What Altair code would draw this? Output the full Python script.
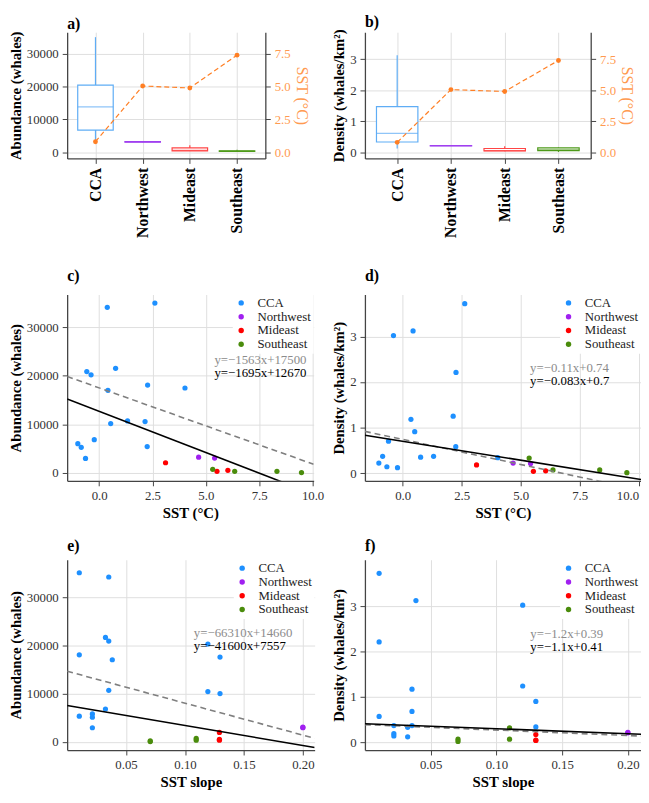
import altair as alt
import pandas as pd

FONT = "Liberation Serif"

regions = ["CCA", "Northwest", "Mideast", "Southeast"]
point_colors = ["#1E90FF", "#A020F0", "#FF0000", "#4A8C0C"]
box_colors = ["#5FADF5", "#A040F0", "#FF4545", "#4E9A1A"]
orange = "#FF7F24"
orange_text = "#FF9A50"

# ---- panels a/b : box summaries per region + mean SST ----
sst_mean = [0.8, 5.05, 4.9, 7.4]
ab_lo = [2930, 3050, 340, 70]
ab_q1 = [6750, 3080, 440, 272]
ab_med = [13860, 3150, 540, 340]
ab_q3 = [20480, 3220, 1320, 440]
ab_hi = [35100, 3250, 2100, 745]
de_lo = [0.12, 0.20, 0.03, 0.01]
de_q1 = [0.33, 0.205, 0.045, 0.05]
de_med = [0.61, 0.21, 0.05, 0.08]
de_q3 = [1.47, 0.215, 0.12, 0.14]
de_hi = [3.13, 0.22, 0.19, 0.15]

# ---- panel c : SST vs abundance ----
c_sst = {"CCA": [-1.0, -0.84, -0.64, -0.58, -0.38, -0.23, 0.38, 0.41, 0.54, 0.77, 1.33, 2.15, 2.25, 2.27, 2.61, 4.02],
         "Northwest": [4.66, 5.41], "Mideast": [3.11, 5.52, 6.03], "Southeast": [5.32, 6.35, 8.33, 9.48]}
c_abund = {"CCA": [6030, 5280, 2980, 20850, 20180, 6840, 34060, 16990, 10160, 21530, 10700, 10560, 5420, 18080, 34940, 17470],
           "Northwest": [3250, 3050], "Mideast": [2100, 340, 540], "Southeast": [745, 340, 340, 70]}
# ---- panel d : SST vs density ----
d_sst = {"CCA": [-1.01, -0.85, -0.67, -0.60, -0.39, -0.22, 0.35, 0.44, 0.51, 0.76, 1.31, 2.14, 2.26, 2.25, 2.63, 4.03],
         "Northwest": [4.68, 5.42], "Mideast": [3.13, 5.54, 6.06], "Southeast": [5.36, 6.37, 8.35, 9.5]}
d_dens = {"CCA": [0.22, 0.37, 0.14, 0.70, 3.02, 0.12, 1.18, 3.12, 0.91, 0.35, 0.37, 1.25, 2.21, 0.58, 3.72, 0.34],
          "Northwest": [0.22, 0.21], "Mideast": [0.18, 0.04, 0.05], "Southeast": [0.33, 0.07, 0.07, 0.01]}
# ---- panel e : SST slope vs abundance ----
e_slope = {"CCA": [0.0103, 0.0353, 0.0103, 0.0325, 0.0353, 0.0383, 0.0353, 0.0325, 0.0103, 0.0214, 0.0214, 0.0214, 0.1194, 0.1194, 0.1297, 0.1297],
           "Northwest": [0.2, 0.2], "Mideast": [0.1292, 0.1292, 0.1292], "Southeast": [0.0705, 0.0705, 0.1095, 0.1095]}
e_abund = {"CCA": [35100, 34220, 18060, 21680, 20930, 17040, 10700, 6820, 5320, 5790, 5110, 2930, 20310, 10430, 17590, 10020],
           "Northwest": [3050, 2950], "Mideast": [1950, 340, 540], "Southeast": [70, 200, 700, 340]}
# ---- panel f : SST slope vs density ----
f_slope = {"CCA": [0.0108, 0.0108, 0.0108, 0.0388, 0.0358, 0.0358, 0.0358, 0.0325, 0.0325, 0.022, 0.022, 0.022, 0.12, 0.12, 0.13, 0.13],
           "Northwest": [0.2, 0.2], "Mideast": [0.13, 0.13, 0.13], "Southeast": [0.0708, 0.0708, 0.11, 0.11]}
f_dens = {"CCA": [3.72, 2.21, 0.57, 3.12, 1.17, 0.68, 0.37, 0.33, 0.12, 0.37, 0.19, 0.14, 3.02, 1.24, 0.90, 0.34],
          "Northwest": [0.22, 0.21], "Mideast": [0.17, 0.04, 0.05], "Southeast": [0.02, 0.07, 0.32, 0.07]}

# regression fits printed on the chart: (slope, intercept)
c_fit = {"gray": (-1563, 17500), "black": (-1695, 12670)}
d_fit = {"gray": (-0.11, 0.74), "black": (-0.083, 0.7)}
e_fit = {"gray": (-66310, 14660), "black": (-41600, 7557)}
f_fit = {"gray": (-1.2, 0.39), "black": (-1.1, 0.41)}
c_lab = ["y=\u22121563x+17500", "y=\u22121695x+12670"]
d_lab = ["y=\u22120.11x+0.74", "y=\u22120.083x+0.7"]
e_lab = ["y=\u221266310x+14660", "y=\u221241600x+7557"]
f_lab = ["y=\u22121.2x+0.39", "y=\u22121.1x+0.41"]
c_lab_pos = (5.4, [23200, 20500])
d_lab_pos = (5.4, [2.31, 2.02])
e_lab_pos = (0.1075, [22600, 19850])
f_lab_pos = (0.1258, [2.38, 2.09])


def ptitle(s, off):
    return alt.TitleParams(s, anchor="start", frame="group", fontSize=16, fontWeight="bold",
                           font=FONT, color="black", offset=off)


def box_panel(lo, q1, med, q3, hi, ydom, yvals, ytitle, sstdom, width, height, boxw, label):
    df = pd.DataFrame({"region": regions, "lo": lo, "q1": q1, "med": med, "q3": q3, "hi": hi, "sst": sst_mean})
    xenc = alt.X("region:N", sort=regions,
                 scale=alt.Scale(type="point", padding=0.6, domain=regions),
                 axis=alt.Axis(title=None, labelAngle=-90, labelFontWeight="bold", labelFontSize=16,
                               labelColor="black", grid=True, labelPadding=4))
    cscale = alt.Scale(domain=regions, range=box_colors)
    yscale = alt.Scale(domain=ydom, nice=False, zero=False)
    yaxis = alt.Axis(title=ytitle, values=yvals, format="d", grid=True)
    base = alt.Chart(df)
    whisk = base.mark_rule(strokeWidth=1.2).encode(
        x=xenc, y=alt.Y("lo:Q", scale=yscale, axis=yaxis), y2="hi:Q",
        color=alt.Color("region:N", scale=cscale, legend=None))
    box = base.mark_bar(size=boxw, fill="white", strokeWidth=1.2).encode(
        x=xenc, y=alt.Y("q1:Q", scale=yscale, axis=yaxis), y2="q3:Q",
        stroke=alt.Stroke("region:N", scale=cscale, legend=None))
    mline = base.mark_tick(size=boxw, thickness=1.2).encode(
        x=xenc, y=alt.Y("med:Q", scale=yscale, axis=yaxis),
        color=alt.Color("region:N", scale=cscale, legend=None))
    sst_y = alt.Y("sst:Q", scale=alt.Scale(domain=sstdom, nice=False, zero=False),
                  axis=alt.Axis(orient="right", title="SST (\u00b0C)", values=[0, 2.5, 5, 7.5], format=".1f",
                                grid=False, labelColor=orange_text, titleColor=orange_text,
                                titleFontWeight="normal", titleFontSize=16))
    line = base.mark_line(color=orange, strokeDash=[5, 3], strokeWidth=1.2).encode(x=xenc, y=sst_y)
    pts = base.mark_point(filled=True, color=orange, size=24, opacity=1).encode(x=xenc, y=sst_y)
    return alt.layer(alt.layer(whisk, box, mline), alt.layer(line, pts)).resolve_scale(
        y="independent").properties(width=width, height=height, title=ptitle(label, -1))


def make_points(xs, ys):
    rows = []
    for reg in regions:
        for xv, yv in zip(xs[reg], ys[reg]):
            rows.append({"region": reg, "x": xv, "y": yv})
    return pd.DataFrame(rows)


def scatter_panel(xs, ys, xdom, ydom, xvals, xfmt, yvals, xtitle, ytitle, fit, labels, lab_pos,
                  width, height, label, toff, flush=False):
    pdf = make_points(xs, ys)
    X = alt.X("x:Q", scale=alt.Scale(domain=xdom, nice=False, zero=False),
              axis=alt.Axis(title=xtitle, values=xvals, format=xfmt, grid=True,
                            labelFlush=4 if flush else False))
    Y = alt.Y("y:Q", scale=alt.Scale(domain=ydom, nice=False, zero=False),
              axis=alt.Axis(title=ytitle, values=yvals, format="d", grid=True))
    legend = alt.Legend(title=None, orient="top-right", offset=0, padding=2, fillColor="white",
                        labelFont=FONT, labelFontSize=13, labelColor="#222", symbolType="circle",
                        symbolSize=30, rowPadding=0, labelOffset=10)
    pts = alt.Chart(pdf).mark_circle(size=28, opacity=1).encode(
        x=X, y=Y, color=alt.Color("region:N", scale=alt.Scale(domain=regions, range=point_colors),
                                  legend=legend))
    layers = [pts]
    for kind, style in [("gray", dict(color="#7F7F7F", strokeDash=[6, 4])), ("black", dict(color="black"))]:
        m, b = fit[kind]
        ldf = pd.DataFrame({"x": [xdom[0], xdom[1]], "y": [m * xdom[0] + b, m * xdom[1] + b]})
        layers.append(alt.Chart(ldf).mark_line(clip=True, strokeWidth=1.6, **style).encode(x=X, y=Y))
    for txt, yv, col in zip(labels, lab_pos[1], ["#8C8C8C", "black"]):
        tdf = pd.DataFrame({"x": [lab_pos[0]], "y": [yv], "t": [txt]})
        layers.append(alt.Chart(tdf).mark_text(align="left", baseline="middle", font=FONT, fontSize=13,
                                               color=col).encode(x=X, y=Y, text="t:N"))
    return alt.layer(*layers).properties(width=width, height=height, title=ptitle(label, toff))


pa = box_panel(ab_lo, ab_q1, ab_med, ab_q3, ab_hi, [-1900, 36600], [0, 10000, 20000, 30000],
               "Abundance (whales)", [-0.475, 9.15], 201, 128, 36, "a)")
pb = box_panel(de_lo, de_q1, de_med, de_q3, de_hi, [-0.2, 3.87], [0, 1, 2, 3],
               "Density (whales/km\u00b2)", [-0.5, 9.675], 229, 128, 42, "b)")
pc = scatter_panel(c_sst, c_abund, [-1.5, 10.05], [-1630, 36700], [0, 2.5, 5, 7.5, 10], ".1f",
                   [0, 10000, 20000, 30000], "SST (\u00b0C)", "Abundance (whales)", c_fit, c_lab, c_lab_pos,
                   250, 189, "c)", 11)
pd_ = scatter_panel(d_sst, d_dens, [-1.6, 10.1], [-0.17, 3.92], [0, 2.5, 5, 7.5, 10], ".1f",
                    [0, 1, 2, 3], "SST (\u00b0C)", "Density (whales/km\u00b2)", d_fit, d_lab, d_lab_pos,
                    280, 189, "d)", 11, flush=True)
pe = scatter_panel(e_slope, e_abund, [0.0, 0.21], [-1700, 37800], [0.05, 0.10, 0.15, 0.20], ".2f",
                   [0, 10000, 20000, 30000], "SST slope", "Abundance (whales)", e_fit, e_lab, e_lab_pos,
                   251, 193, "e)", 6)
pf = scatter_panel(f_slope, f_dens, [0.0, 0.21], [-0.17, 4.02], [0.05, 0.10, 0.15, 0.20], ".2f",
                   [0, 1, 2, 3], "SST slope", "Density (whales/km\u00b2)", f_fit, f_lab, f_lab_pos,
                   280, 193, "f)", 6)

row1 = alt.hconcat(pa, pb, spacing=22).resolve_scale(color="independent", stroke="independent")
row2 = alt.hconcat(pc, pd_, spacing=7).resolve_scale(color="independent")
row3 = alt.hconcat(pe, pf, spacing=17).resolve_scale(color="independent")
lower = alt.vconcat(row2, row3, spacing=18).resolve_scale(color="independent")

chart = alt.vconcat(row1, lower, spacing=30).resolve_scale(color="independent").properties(
    padding={"left": 0, "top": 0, "right": 0, "bottom": 0}
).configure_axis(
    labelFont=FONT, labelFontSize=13, labelColor="#333333", titleFont=FONT, titleFontSize=15,
    titleFontWeight="bold", titleColor="black", domainColor="#444444", domainWidth=1.3,
    tickColor="#444444", tickSize=5, labelPadding=4, titlePadding=3, gridColor="#DEDEDE", gridWidth=1
).configure_view(stroke=None)

chart.save("out.html", embed_options={"renderer": "svg", "actions": False})
